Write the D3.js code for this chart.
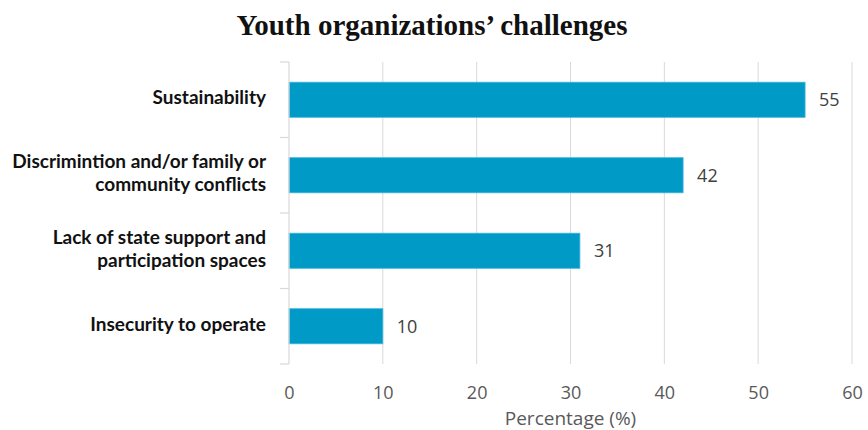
<!DOCTYPE html>
<html>
<head>
<meta charset="utf-8">
<script src="https://cdn.jsdelivr.net/npm/d3@7/dist/d3.min.js"></script>
<style>
  html, body { margin: 0; padding: 0; background: #fff; }
  svg { display: block; }
</style>
</head>
<body>
<svg id="chart" width="868" height="430"></svg>
<script>
// Challenges reported by youth organizations (share of respondents, %)
const categories = [
  ["Sustainability"],
  ["Discrimintion and/or family or", "community conflicts"],
  ["Lack of state support and", "participation spaces"],
  ["Insecurity to operate"]
];
const values = [55, 42, 31, 10];
const xTicks = [0, 10, 20, 30, 40, 50, 60];
const titleText = "Youth organizations\u2019 challenges";
const xAxisTitle = "Percentage (%)";

const svg = d3.select("#chart");

const plotTop = 62, plotBottom = 364;
const x = d3.scaleLinear().domain([0, 60]).range([289, 852]);
const y = d3.scaleBand()
  .domain(d3.range(categories.length))
  .range([plotTop, plotBottom])
  .paddingInner(0.535)
  .paddingOuter(0.2675);

// Title
svg.append("text")
  .attr("x", 432).attr("y", 35)
  .attr("text-anchor", "middle")
  .attr("font-family", "'Liberation Serif', 'DejaVu Serif', serif")
  .attr("font-weight", "bold")
  .attr("font-size", 29)
  .attr("fill", "#111")
  .text(titleText);

// Vertical gridlines
svg.append("g")
  .selectAll("line")
  .data(xTicks.filter(d => d > 0))
  .join("line")
  .attr("x1", d => x(d)).attr("x2", d => x(d))
  .attr("y1", plotTop).attr("y2", plotBottom)
  .attr("stroke", "#d9d9d9").attr("stroke-width", 1);

// Bars
svg.append("g")
  .selectAll("rect")
  .data(values)
  .join("rect")
  .attr("x", x(0))
  .attr("y", (d, i) => y(i))
  .attr("width", d => x(d) - x(0))
  .attr("height", y.bandwidth())
  .attr("fill", "#009ac7")
  .attr("stroke", "#3fb6da")
  .attr("stroke-width", 0.8);

// Category axis line with ticks between bands
const bandEdges = d3.range(categories.length + 1).map(i => plotTop + i * y.step());
const yAxisG = svg.append("g");
yAxisG.append("line")
  .attr("x1", x(0)).attr("x2", x(0))
  .attr("y1", plotTop).attr("y2", plotBottom)
  .attr("stroke", "#d9d9d9").attr("stroke-width", 1.2);
yAxisG.selectAll("line.tick")
  .data(bandEdges)
  .join("line")
  .attr("class", "tick")
  .attr("x1", x(0) - 9).attr("x2", x(0))
  .attr("y1", d => d).attr("y2", d => d)
  .attr("stroke", "#d9d9d9").attr("stroke-width", 1.2);

// Category labels
const labelG = svg.append("g")
  .attr("font-family", "Lato, 'Open Sans', sans-serif")
  .attr("font-weight", "bold")
  .attr("font-size", 19)
  .attr("fill", "#111");
categories.forEach((lines, i) => {
  const cy = y(i) + y.bandwidth() / 2;
  const lh = 23;
  const t = labelG.append("text")
    .attr("text-anchor", "end")
    .attr("x", 266);
  lines.forEach((ln, j) => {
    t.append("tspan")
      .attr("x", 266)
      .attr("y", cy + (j - (lines.length - 1) / 2) * lh - 2)
      .attr("dy", "0.35em")
      .text(ln);
  });
});

// Value labels
svg.append("g")
  .selectAll("text")
  .data(values)
  .join("text")
  .attr("x", d => x(d) + 14)
  .attr("y", (d, i) => y(i) + y.bandwidth() / 2)
  .attr("dy", "0.35em")
  .attr("font-family", "'Open Sans', sans-serif")
  .attr("font-size", 18)
  .attr("fill", "#404040")
  .text(d => d);

// X axis tick labels
const xAxis = d3.axisBottom(x).tickValues(xTicks).tickSize(0).tickPadding(0);
const xg = svg.append("g")
  .attr("transform", "translate(0, 386)")
  .call(xAxis);
xg.select(".domain").remove();
xg.selectAll("text")
  .attr("font-family", "'Open Sans', sans-serif")
  .attr("font-size", 18)
  .attr("fill", "#595959");

// X axis title
svg.append("text")
  .attr("x", x(30)).attr("y", 425)
  .attr("text-anchor", "middle")
  .attr("font-family", "'Open Sans', sans-serif")
  .attr("font-size", 19)
  .attr("fill", "#595959")
  .text(xAxisTitle);
</script>
</body>
</html>
